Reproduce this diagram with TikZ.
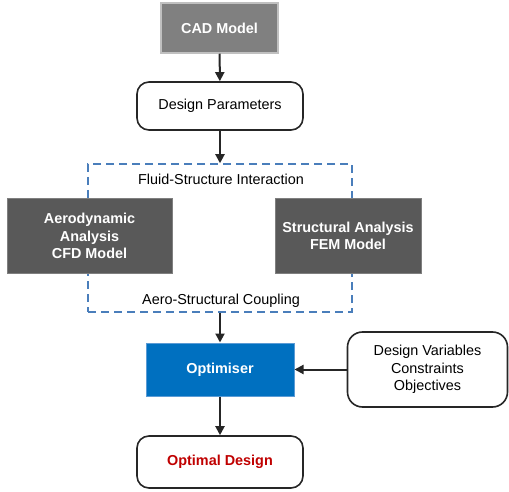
\documentclass[tikz,border=0pt]{standalone}
\usepackage{fontspec}
\setmainfont{Liberation Sans}
\usetikzlibrary{arrows.meta}
\definecolor{cadgray}{HTML}{808080}
\definecolor{cadedge}{HTML}{C0C0C0}
\definecolor{darkbox}{HTML}{595959}
\definecolor{darkedge}{HTML}{7F7F7F}
\definecolor{optblue}{HTML}{0070C0}
\definecolor{optedge}{HTML}{5B9BD5}
\definecolor{loopblue}{HTML}{4A7EBB}
\definecolor{resultred}{HTML}{C00000}
\begin{document}
\begin{tikzpicture}[x=1pt,y=-1pt,
  every node/.style={font=\fontsize{14.4}{17.3}\selectfont, inner sep=0pt, align=center},
  rectbox/.style={rectangle, line width=1.5pt},
  roundbox/.style={rectangle, rounded corners=12pt, draw=black!85, line width=1.6pt, fill=white},
  flow/.style={-{Triangle[length=9pt,width=9pt]}, line width=2pt, draw=black!85},
  loopline/.style={draw=loopblue, line width=1.5pt, dash pattern=on 8pt off 5pt}
]
\useasboundingbox (0,0) rectangle (509,492);

% coupled analysis frame (dashed)
\node[loopline, minimum width=264pt, minimum height=148pt] (fsi) at (220,238) {};
\node (fsitop) at (221,179) {Fluid-Structure Interaction};
\node (fsibot) at (221,301) {Aero-Structural Coupling};

% boxes
\node[rectbox, fill=cadgray, draw=cadedge, minimum width=117pt, minimum height=50pt,
      text=white, font=\fontsize{14.4}{17.3}\selectfont\bfseries] (cad) at (219.5,28) {CAD Model};
\node[roundbox, minimum width=166pt, minimum height=48pt] (dp) at (220,106) {Design Parameters};
\node[rectbox, fill=darkbox, draw=darkedge, line width=1pt, minimum width=165pt, minimum height=74pt,
      text=white, font=\fontsize{14.4}{17.3}\selectfont\bfseries] (aero) at (89.5,236) {Aerodynamic\\Analysis\\CFD Model};
\node[rectbox, fill=darkbox, draw=darkedge, line width=1pt, minimum width=146pt, minimum height=74pt,
      text=white, font=\fontsize{14.4}{17.3}\selectfont\bfseries] (struct) at (348,236) {Structural Analysis\\FEM Model};
\node[rectbox, fill=optblue, draw=optedge, line width=1pt, minimum width=148pt, minimum height=53pt,
      text=white, font=\fontsize{14.4}{17.3}\selectfont\bfseries] (opt) at (220,369.5) {Optimiser};
\node[roundbox, rounded corners=15pt, minimum width=160pt, minimum height=75pt] (dv) at (427.5,369.5)
      {Design Variables\\Constraints\\Objectives};
\node[roundbox, minimum width=166pt, minimum height=52pt, text=resultred,
      font=\fontsize{14.4}{17.3}\selectfont\bfseries] (od) at (220,462) {Optimal Design};

% connectors
\draw[flow] (cad) -- (dp);
\draw[flow] (dp.south) -- (dp.south |- fsi.north);
\draw[flow] (opt.north |- fsi.south) -- (opt.north);
\draw[flow] (dv) -- (opt);
\draw[flow] (opt) -- (od);
\end{tikzpicture}
\end{document}
